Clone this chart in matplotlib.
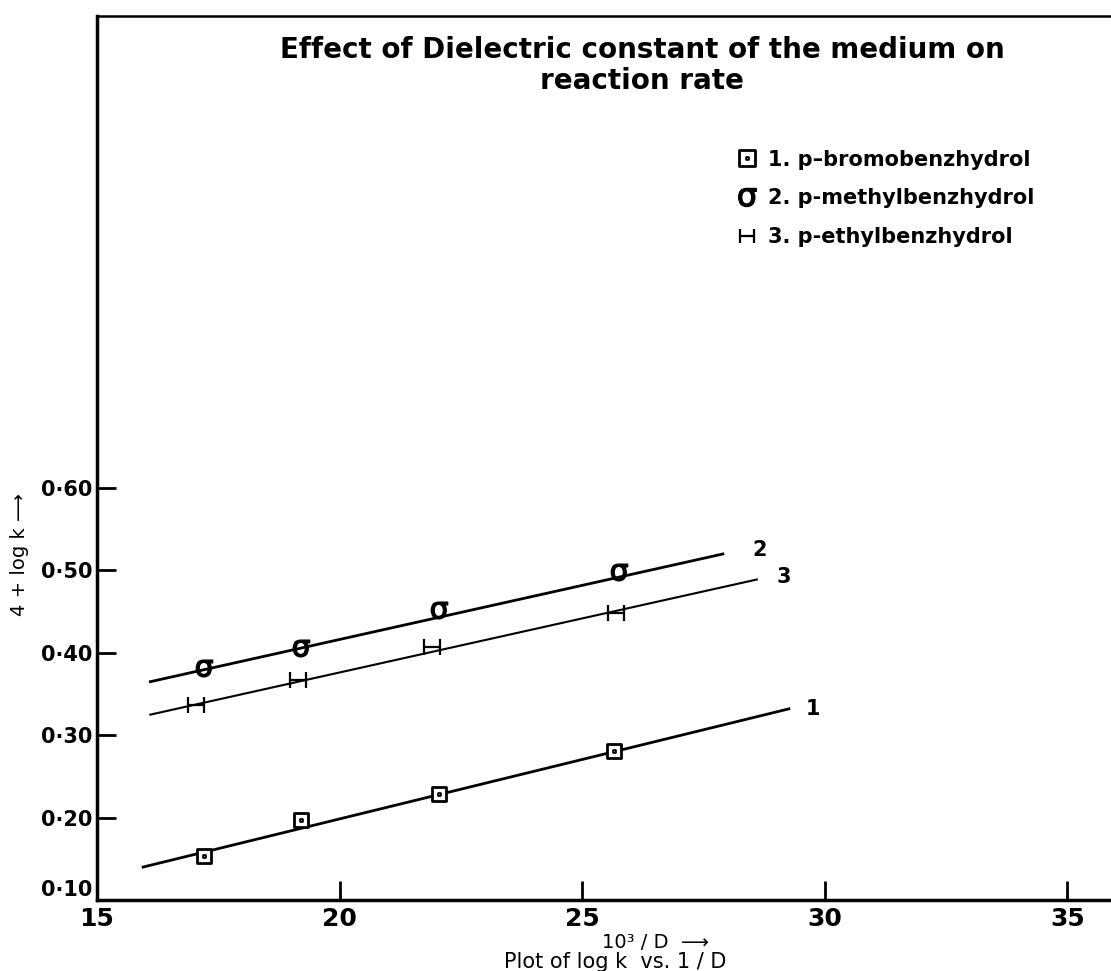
import matplotlib.pyplot as plt
from matplotlib.path import Path
from matplotlib.lines import Line2D

# data (10^3/D vs 4 + log k)
bromo_x = [17.2, 19.2, 22.05, 25.65]
bromo_y = [0.153, 0.197, 0.229, 0.281]
methyl_x = [17.2, 19.2, 22.05, 25.75]
methyl_y = [0.382, 0.406, 0.452, 0.498]
ethyl_x = [17.05, 19.15, 21.9, 25.7]
ethyl_y = [0.337, 0.367, 0.407, 0.448]

# hand drawn best-fit lines (end points)
fit1_x = [15.95, 29.26]
fit1_y = [0.140, 0.332]
fit2_x = [16.1, 27.9]
fit2_y = [0.365, 0.520]
fit3_x = [16.1, 28.6]
fit3_y = [0.325, 0.489]

line_tags = ['1', '2', '3']
tag_x = [29.6, 28.5, 29.0]
tag_y = [0.332, 0.525, 0.492]

yticks = [0.10, 0.20, 0.30, 0.40, 0.50, 0.60]
ytick_labels = ['0·10', '0·20', '0·30', '0·40', '0·50', '0·60']
xticks = [15, 20, 25, 30, 35]
legend_labels = ['1. p\u2013bromobenzhydrol', '2. p-methylbenzhydrol', '3. p-ethylbenzhydrol']

# custom markers: square with a dot, and |-| bar
sq_marker = Path(
    [(-1, -1), (1, -1), (1, 1), (-1, 1), (-1, -1),
     (-0.15, -0.15), (0.15, -0.15), (0.15, 0.15), (-0.15, 0.15), (-0.15, -0.15)],
    [Path.MOVETO, Path.LINETO, Path.LINETO, Path.LINETO, Path.CLOSEPOLY,
     Path.MOVETO, Path.LINETO, Path.LINETO, Path.LINETO, Path.CLOSEPOLY])
bar_marker = Path(
    [(-1, -1), (-1, 1), (1, -1), (1, 1), (-1, 0), (1, 0)],
    [Path.MOVETO, Path.LINETO, Path.MOVETO, Path.LINETO, Path.MOVETO, Path.LINETO])
sig_marker = '$\\mathregular{\u03c3}$'

fig = plt.figure(figsize=(11.11, 9.71), dpi=100)
ax = fig.add_axes([97 / 1111, 71 / 971, 1014 / 1111, 884 / 971])

ax.plot(fit1_x, fit1_y, color='black', lw=2.0)
ax.plot(fit2_x, fit2_y, color='black', lw=2.0)
ax.plot(fit3_x, fit3_y, color='black', lw=1.5)

ax.plot(bromo_x, bromo_y, ls='none', marker=sq_marker, ms=10, mfc='white',
        mec='black', mew=2)
ax.plot(methyl_x, methyl_y, ls='none', marker=sig_marker, ms=12, color='black')
ax.plot(ethyl_x, ethyl_y, ls='none', marker=bar_marker, ms=11, mfc='none',
        mec='black', mew=1.6)

for t, tx, ty in zip(line_tags, tag_x, tag_y):
    ax.text(tx, ty, t, fontsize=15, fontweight='bold', va='center', ha='left')

ax.set_xlim(15, 35.9)
ax.set_ylim(0.10, 1.173)
ax.set_xticks(xticks)
ax.set_xticklabels([str(v) for v in xticks], fontsize=18, fontweight='bold')
ax.set_yticks(yticks)
ax.set_yticklabels(ytick_labels, fontsize=15, fontweight='bold')
ax.tick_params(axis='both', direction='in', length=14, width=2)
ax.tick_params(axis='x', pad=5)
ax.tick_params(axis='y', pad=3)
ax.get_yticklabels()[0].set_va('bottom')

for s in ['left', 'bottom']:
    ax.spines[s].set_linewidth(2.5)
ax.spines['top'].set_linewidth(1.8)
ax.spines['right'].set_visible(False)

# legend
h1 = Line2D([], [], ls='none', marker=sq_marker, ms=11, mfc='white', mec='black', mew=2)
h2 = Line2D([], [], ls='none', marker=sig_marker, ms=13, color='black')
h3 = Line2D([], [], ls='none', marker=bar_marker, ms=10, mfc='none', mec='black', mew=1.6)
leg = ax.legend([h1, h2, h3], legend_labels, loc='upper left',
                bbox_to_anchor=(718 / 1111, 1 - 131 / 971), bbox_transform=fig.transFigure,
                frameon=False, handlelength=1.0, handletextpad=0.5, labelspacing=0.9,
                prop={'family': 'DejaVu Sans', 'weight': 'bold', 'size': 15})

fig.text(642 / 1111, 1 - 50 / 971, 'Effect of Dielectric constant of the medium on',
         ha='center', va='center', fontsize=20, fontweight='bold', family='DejaVu Sans')
fig.text(642 / 1111, 1 - 81 / 971, 'reaction rate',
         ha='center', va='center', fontsize=20, fontweight='bold', family='DejaVu Sans')

fig.text(20 / 1111, 1 - 555 / 971, '4 + log k \u27f6', rotation=90, ha='center', va='center',
         fontsize=14, family='DejaVu Sans')
fig.text(655 / 1111, 1 - 942 / 971, '10\u00b3 / D  \u27f6', ha='center', va='center',
         fontsize=14, family='DejaVu Sans')
fig.text(615 / 1111, 1 - 962 / 971, 'Plot of log k  vs. 1 / D', ha='center', va='center',
         fontsize=15, family='DejaVu Sans')

fig.savefig('out.png', dpi=100)
